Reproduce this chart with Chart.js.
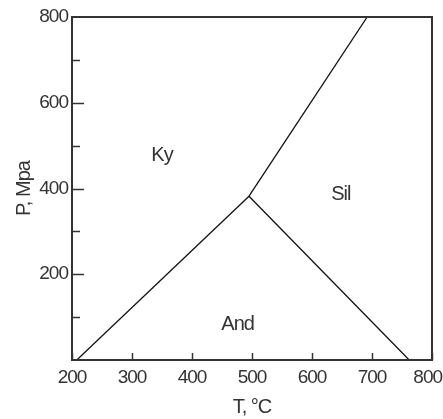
<!DOCTYPE html>
<html>
<head>
    <title>Aluminosilicate phase diagram</title>
    <script src="https://cdn.jsdelivr.net/npm/chart.js"></script>
    <style>
        html, body { margin: 0; padding: 0; background: #fff; }
        #wrap { width: 443px; height: 419px; }
    </style>
</head>
<body>
    <div id="wrap"><canvas id="phaseChart" width="443" height="419"></canvas></div>

    <script>
        // phase boundaries, T in degC, P in MPa
        const kyAndT = [208, 495];
        const kyAndP = [0, 382];
        const kySilT = [495, 692];
        const kySilP = [382, 800];
        const andSilT = [495, 762];
        const andSilP = [382, 0];

        // field labels
        const fieldNames = ['Ky', 'Sil', 'And'];
        const fieldT = [350, 648, 476];
        const fieldP = [478, 385, 82];

        const xTicks = [200, 300, 400, 500, 600, 700, 800];
        const yMajor = [200, 400, 600];
        const yMinor = [100, 300, 500, 700];

        const FONT = "'Liberation Sans Narrow', 'Arial Narrow', 'Liberation Sans', sans-serif";
        const INK = '#333';

        function toPoints(xs, ys) {
            return xs.map((x, i) => ({ x: x, y: ys[i] }));
        }

        const lineStyle = {
            showLine: true,
            borderColor: '#111',
            borderWidth: 1.3,
            pointRadius: 0,
            fill: false
        };

        // tighter letters, close to the narrow face of the original
        const narrowText = {
            id: 'narrowText',
            beforeDraw(chart) {
                chart.ctx.letterSpacing = '-1px';
            }
        };

        // frame, inner tick marks and field names
        const decorations = {
            id: 'decorations',
            afterDatasetsDraw(chart) {
                const ctx = chart.ctx;
                const a = chart.chartArea;
                const xs = chart.scales.x, ys = chart.scales.y;
                ctx.save();
                ctx.strokeStyle = INK;
                ctx.lineWidth = 1.5;
                xTicks.forEach(v => {
                    const px = Math.round(xs.getPixelForValue(v)) + 0.5;
                    ctx.beginPath();
                    ctx.moveTo(px, a.bottom);
                    ctx.lineTo(px, a.bottom - 7);
                    ctx.stroke();
                });
                yMajor.forEach(v => {
                    const py = Math.round(ys.getPixelForValue(v)) + 0.5;
                    ctx.beginPath();
                    ctx.moveTo(a.left, py);
                    ctx.lineTo(a.left + 12, py);
                    ctx.stroke();
                });
                yMinor.forEach(v => {
                    const py = Math.round(ys.getPixelForValue(v)) + 0.5;
                    ctx.beginPath();
                    ctx.moveTo(a.left, py);
                    ctx.lineTo(a.left + 8, py);
                    ctx.stroke();
                });
                ctx.lineWidth = 2;
                ctx.strokeRect(a.left, a.top, a.right - a.left, a.bottom - a.top);

                ctx.fillStyle = INK;
                ctx.font = '20px ' + FONT;
                ctx.letterSpacing = '-1px';
                ctx.textAlign = 'center';
                ctx.textBaseline = 'middle';
                fieldNames.forEach((name, i) => {
                    ctx.fillText(name, xs.getPixelForValue(fieldT[i]), ys.getPixelForValue(fieldP[i]));
                });
                ctx.restore();
            }
        };

        new Chart(document.getElementById('phaseChart'), {
            type: 'scatter',
            data: {
                datasets: [
                    Object.assign({ label: 'Ky-And', data: toPoints(kyAndT, kyAndP) }, lineStyle),
                    Object.assign({ label: 'Ky-Sil', data: toPoints(kySilT, kySilP) }, lineStyle),
                    Object.assign({ label: 'And-Sil', data: toPoints(andSilT, andSilP) }, lineStyle)
                ]
            },
            options: {
                responsive: false,
                animation: false,
                layout: { padding: { top: 17, right: 11, left: 0, bottom: 0 } },
                plugins: {
                    legend: { display: false },
                    tooltip: { enabled: false }
                },
                scales: {
                    x: {
                        min: 200,
                        max: 800,
                        afterFit: s => {
                            s.height = 59;
                            s.paddingLeft = 0;
                            s.paddingRight = 0;
                        },
                        grid: { display: false, drawTicks: false },
                        border: { display: false },
                        ticks: {
                            stepSize: 100,
                            padding: 6,
                            color: INK,
                            maxRotation: 0,
                            font: { family: FONT, size: 19 },
                            // last label pulled in so it stays inside the page
                            callback: v => v === 800 ? '800\u00a0\u00a0' : v
                        },
                        title: {
                            display: true,
                            text: 'T, °C',
                            color: INK,
                            padding: { top: 1, bottom: 0 },
                            font: { family: FONT, size: 20 }
                        }
                    },
                    y: {
                        min: 0,
                        max: 800,
                        afterFit: s => {
                            s.width = 72;
                            s.paddingTop = 0;
                            s.paddingBottom = 0;
                        },
                        grid: { display: false, drawTicks: false },
                        border: { display: false },
                        ticks: {
                            stepSize: 200,
                            padding: 4,
                            color: INK,
                            font: { family: FONT, size: 19 },
                            callback: v => v === 0 ? '' : v
                        },
                        title: {
                            display: true,
                            text: 'P, Mpa',
                            color: INK,
                            padding: { top: 12, bottom: 0 },
                            font: { family: FONT, size: 20 }
                        }
                    }
                }
            },
            plugins: [narrowText, decorations]
        });
    </script>
</body>
</html>
